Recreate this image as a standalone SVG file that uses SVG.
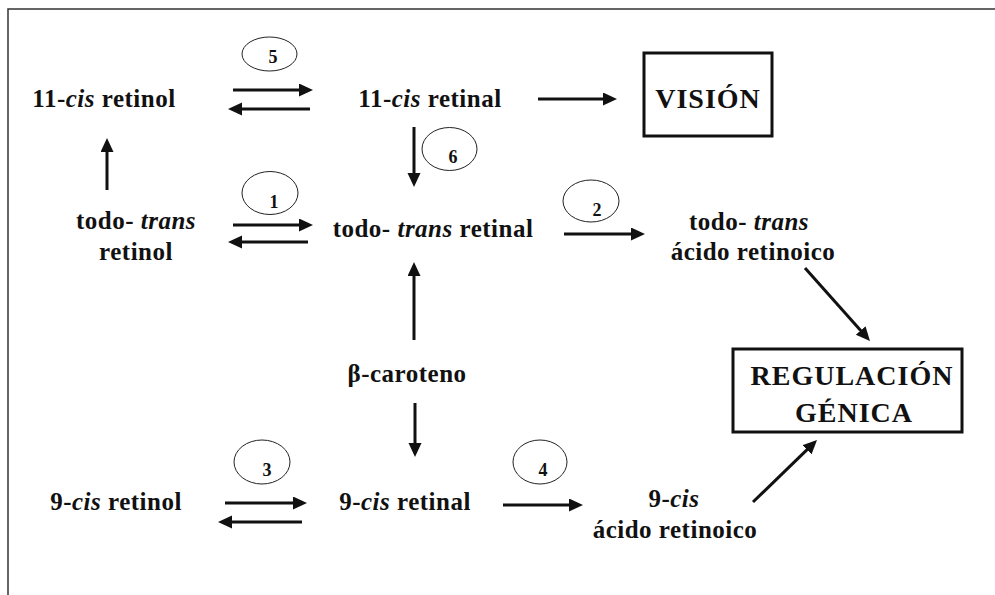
<svg xmlns="http://www.w3.org/2000/svg" width="995" height="595" viewBox="0 0 995 595">
<style>
.t{font-family:"Liberation Serif","Times New Roman",serif;font-weight:bold;font-size:25px;letter-spacing:0.5px;fill:#111;text-anchor:middle}
.i{font-style:italic}
.big{font-size:28px;letter-spacing:1px}
.n{font-family:"Liberation Serif","Times New Roman",serif;font-weight:bold;font-size:18px;fill:#111;text-anchor:middle}
.e{fill:none;stroke:#222;stroke-width:1}
.a{stroke:#111;stroke-width:3;fill:none;marker-end:url(#ah)}
.b{fill:none;stroke:#111;stroke-width:3}
</style>
<defs>
<marker id="ah" markerUnits="userSpaceOnUse" markerWidth="16" markerHeight="14" refX="2" refY="6.5" orient="auto">
<path d="M0,0 L14,6.5 L0,13 z" fill="#111"/>
</marker>
</defs>
<rect width="995" height="595" fill="#fff"/>
<path d="M8,595 L8,9 L995,9" fill="none" stroke="#333" stroke-width="1.5"/>

<g id="retinol11">
<text class="t" x="104" y="107">11-<tspan class="i">cis</tspan> retinol</text>
</g>
<g id="retinal11">
<text class="t" x="430" y="107">11-<tspan class="i">cis</tspan> retinal</text>
</g>
<g id="vision">
<rect class="b" x="644" y="53" width="128" height="83"/>
<text class="t big" x="708" y="108">VISIÓN</text>
</g>
<g id="todoRetinol">
<text class="t" x="136" y="229">todo- <tspan class="i">trans</tspan></text>
<text class="t" x="136" y="260">retinol</text>
</g>
<g id="todoRetinal">
<text class="t" x="433" y="237">todo- <tspan class="i">trans</tspan> retinal</text>
</g>
<g id="todoAcido">
<text class="t" x="749" y="230">todo- <tspan class="i">trans</tspan></text>
<text class="t" x="753" y="260">ácido retinoico</text>
</g>
<g id="caroteno">
<text class="t" x="407" y="382">β-caroteno</text>
</g>
<g id="regulacion">
<rect class="b" x="733" y="349" width="229" height="83"/>
<text class="t big" x="852" y="385">REGULACIÓN</text>
<text class="t big" x="854" y="422">GÉNICA</text>
</g>
<g id="retinol9">
<text class="t" x="116" y="510">9-<tspan class="i">cis</tspan> retinol</text>
</g>
<g id="retinal9">
<text class="t" x="405" y="510">9-<tspan class="i">cis</tspan> retinal</text>
</g>
<g id="acido9">
<text class="t" x="674" y="507">9-<tspan class="i">cis</tspan></text>
<text class="t" x="675" y="538">ácido retinoico</text>
</g>

<g id="enzymes">
<ellipse class="e" cx="269.5" cy="54" rx="27.5" ry="17"/>
<text class="n" x="273" y="63">5</text>
<ellipse class="e" cx="449.5" cy="149" rx="27.5" ry="21.5"/>
<text class="n" x="453" y="163">6</text>
<ellipse class="e" cx="270" cy="193" rx="28" ry="21.5"/>
<text class="n" x="274" y="208">1</text>
<ellipse class="e" cx="591" cy="201" rx="28" ry="21"/>
<text class="n" x="597" y="216">2</text>
<ellipse class="e" cx="262" cy="462" rx="28" ry="22"/>
<text class="n" x="267" y="476">3</text>
<ellipse class="e" cx="540" cy="462" rx="27" ry="22"/>
<text class="n" x="543" y="476">4</text>
</g>

<g id="connectors">
<line class="a" x1="233" y1="90" x2="301" y2="90"/>
<line class="a" x1="310" y1="109" x2="240" y2="109"/>
<line class="a" x1="538" y1="99" x2="605" y2="99"/>
<line class="a" x1="414" y1="127" x2="414" y2="175"/>
<line class="a" x1="107" y1="190" x2="107" y2="150"/>
<line class="a" x1="233" y1="225" x2="301" y2="225"/>
<line class="a" x1="308" y1="242" x2="240" y2="242"/>
<line class="a" x1="564" y1="234" x2="633" y2="234"/>
<line class="a" x1="414" y1="340" x2="414" y2="274"/>
<line class="a" x1="415" y1="403" x2="415" y2="445"/>
<line class="a" x1="805" y1="268" x2="862" y2="332"/>
<line class="a" x1="753" y1="502" x2="808.4" y2="448.4"/>
<line class="a" x1="225" y1="503" x2="295" y2="503"/>
<line class="a" x1="302" y1="522" x2="230" y2="522"/>
<line class="a" x1="503" y1="505" x2="571" y2="505"/>
</g>
</svg>
